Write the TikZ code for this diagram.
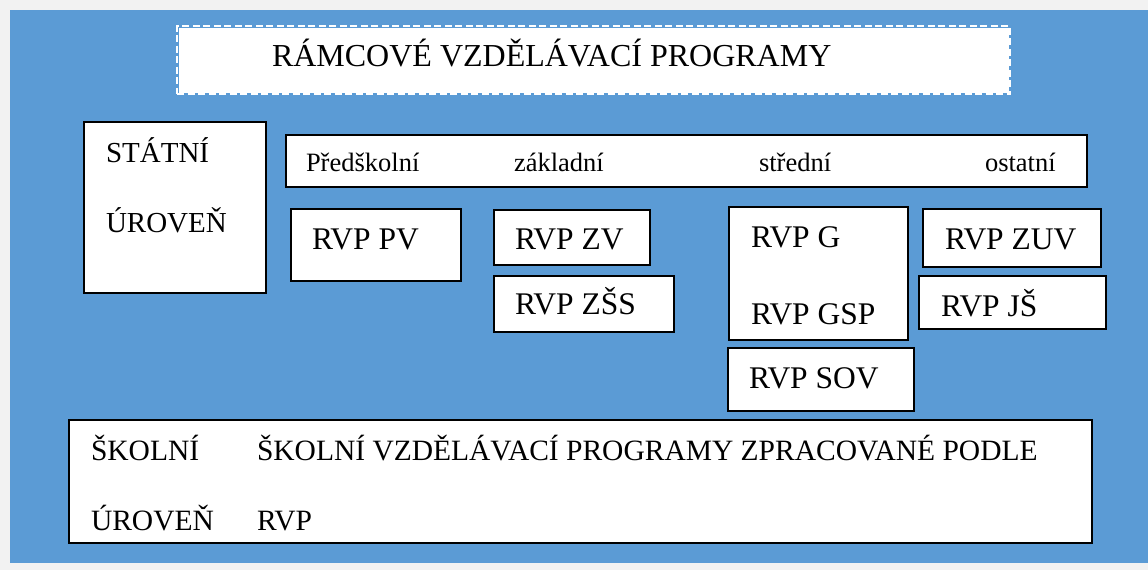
\documentclass[tikz,border=0pt]{standalone}
\usepackage{fontspec}
\setmainfont{Liberation Serif}
\newcommand\myfs[1]{\fontsize{#1pt}{#1pt}\selectfont}
\definecolor{bgblue}{HTML}{5B9BD5}
\definecolor{bggray}{HTML}{F2F2F2}
\tikzset{
  box/.style={draw=black, fill=white, line width=1.4pt, inner sep=0pt, outer sep=0pt, anchor=north west},
  txt/.style={anchor=base west, inner sep=0pt, outer sep=0pt, text=black},
}
\begin{document}
\begin{tikzpicture}[x=1pt,y=-1pt]
\useasboundingbox (0,0) rectangle (1148,570);
\fill[bggray] (0,0) rectangle (1148,570);
\fill[bgblue] (10,10) rectangle (1148,563);
% title box
\fill[white] (178.5,27.5) rectangle (1008.5,92.5);
\node[inner sep=0pt, outer sep=0pt, anchor=north west, minimum width=833pt, minimum height=68pt,
      draw=white, line width=2.6pt, dash pattern=on 7pt off 3.5pt] (titlebox) at (177,26) {};
\node[txt, font=\myfs{32}] (title) at (272,66) {RÁMCOVÉ VZDĚLÁVACÍ PROGRAMY};
% state level
\node[box, minimum width=182pt, minimum height=171pt] (statebox) at (84,122) {};
\node[txt, font=\myfs{29}] (st1) at (106,162) {STÁTNÍ};
\node[txt, font=\myfs{29}] (st2) at (106,232) {ÚROVEŇ};
% category bar
\node[box, minimum width=801pt, minimum height=52pt] (bar) at (286,135) {};
\node[txt, font=\myfs{26.5}] (c1) at (306,171) {Předškolní};
\node[txt, font=\myfs{26.5}] (c2) at (514,171) {základní};
\node[txt, font=\myfs{26.5}] (c3) at (759,171) {střední};
\node[txt, font=\myfs{26.5}] (c4) at (985,171) {ostatní};
% RVP boxes
\node[box, minimum width=170pt, minimum height=72pt] (pvbox) at (291,209) {};
\node[txt, font=\myfs{31.5}] (pv) at (312,249) {RVP PV};
\node[box, minimum width=156pt, minimum height=55pt] (zvbox) at (494,210) {};
\node[txt, font=\myfs{31.5}] (zv) at (515,249) {RVP ZV};
\node[box, minimum width=180pt, minimum height=56pt] (zssbox) at (494,276) {};
\node[txt, font=\myfs{31.5}] (zss) at (515,314) {RVP ZŠS};
\node[box, minimum width=179pt, minimum height=133pt] (gbox) at (729,207) {};
\node[txt, font=\myfs{31.5}] (g) at (751,247) {RVP G};
\node[txt, font=\myfs{31.5}] (gsp) at (751,324) {RVP GSP};
\node[box, minimum width=186pt, minimum height=63pt] (sovbox) at (728,348) {};
\node[txt, font=\myfs{31.5}] (sov) at (749,388) {RVP SOV};
\node[box, minimum width=178pt, minimum height=58pt] (zuvbox) at (923,209) {};
\node[txt, font=\myfs{31.5}] (zuv) at (945,249) {RVP ZUV};
\node[box, minimum width=187pt, minimum height=53pt] (jsbox) at (919,276) {};
\node[txt, font=\myfs{31.5}] (js) at (941,316) {RVP JŠ};
% school level
\node[box, minimum width=1023pt, minimum height=123pt] (schoolbox) at (69,420) {};
\node[txt, font=\myfs{29.5}] (sc1) at (91,460) {ŠKOLNÍ};
\node[txt, font=\myfs{29.5}] (sc2) at (91,530) {ÚROVEŇ};
\node[txt, font=\myfs{29.5}] (sv1) at (257,460) {ŠKOLNÍ VZDĚLÁVACÍ PROGRAMY ZPRACOVANÉ PODLE};
\node[txt, font=\myfs{29.5}] (sv2) at (257,530) {RVP};
\end{tikzpicture}
\end{document}
